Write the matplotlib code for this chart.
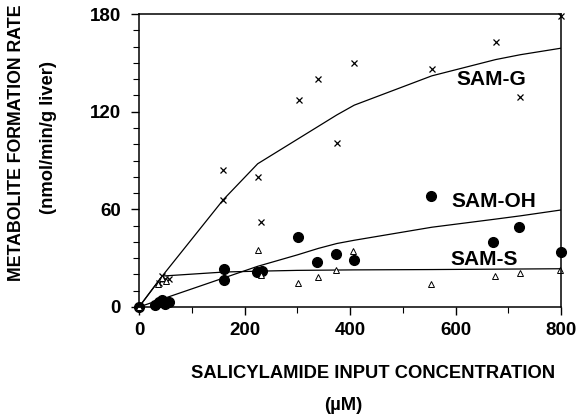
import matplotlib
matplotlib.use("Agg")
import matplotlib.pyplot as plt
from matplotlib.ticker import MultipleLocator

plt.rcParams['font.family'] = ['Liberation Sans', 'DejaVu Sans']

# SAM-G (crosses)
g_x = [0, 37, 44, 50, 56, 160, 160, 225, 231, 303, 340, 375, 408, 555, 676, 723, 800]
g_y = [0, 15, 19, 17, 17, 84, 66, 80, 52, 127, 140, 101, 150, 146, 163, 129, 179]
g_fit_x = [0, 44, 160, 225, 300, 340, 375, 408, 555, 676, 723, 800]
g_fit_y = [0, 19, 66, 88, 103, 111, 118, 124, 142, 152, 155, 159]

# SAM-OH (filled circles)
oh_x = [0, 30, 38, 44, 50, 56, 162, 162, 223, 234, 301, 338, 373, 408, 554, 672, 720, 800]
oh_y = [0, 1, 3, 4, 2, 3, 23.5, 16.6, 21.7, 22, 43, 27.5, 32.4, 29, 68, 40, 49, 34]
oh_fit_x = [0, 162, 225, 300, 340, 375, 408, 555, 676, 723, 800]
oh_fit_y = [0, 18, 25, 32, 36, 39, 41, 49, 54, 56, 59.6]

# SAM-S (open triangles)
s_x = [0, 36, 44, 52, 225, 231, 302, 339, 374, 406, 554, 675, 722, 798]
s_y = [0, 14, 18, 16, 35, 19.5, 15, 18.6, 22.5, 34.4, 14.3, 19.3, 21, 22.7]
s_fit_x = [0, 44, 162, 225, 300, 408, 555, 800]
s_fit_y = [0, 19, 21.5, 22, 22.5, 22.8, 23, 23.5]

fig = plt.figure(figsize=(5.78, 4.17), dpi=100)
ax = fig.add_axes([0.2405, 0.2638, 0.7301, 0.7026])

ax.plot(g_fit_x, g_fit_y, color='black', lw=0.9)
ax.plot(oh_fit_x, oh_fit_y, color='black', lw=0.9)
ax.plot(s_fit_x, s_fit_y, color='black', lw=0.9)

ax.plot(g_x, g_y, 'x', color='black', ms=4.5, mew=0.9, clip_on=False)
ax.plot(oh_x, oh_y, 'o', color='black', ms=7, clip_on=False)
ax.plot(s_x, s_y, '^', mfc='white', mec='black', ms=4, mew=0.7, clip_on=False)

ax.set_xlim(0, 800)
ax.set_ylim(0, 180)
ax.xaxis.set_major_locator(MultipleLocator(200))
ax.xaxis.set_minor_locator(MultipleLocator(100))
ax.yaxis.set_major_locator(MultipleLocator(60))
ax.yaxis.set_minor_locator(MultipleLocator(10))
ax.tick_params(which='major', direction='out', length=6, width=1, labelsize=13.5, pad=5)
ax.tick_params(which='minor', direction='out', length=4, width=0.8)
ax.tick_params(axis='y', which='major', pad=7)
for lab in ax.get_xticklabels() + ax.get_yticklabels():
    lab.set_fontweight('bold')
for s in ax.spines.values():
    s.set_linewidth(1.1)

ax.text(601, 139.5, 'SAM-G', fontsize=15, fontweight='bold', ha='left', va='center')
ax.text(592, 64.7, 'SAM-OH', fontsize=15, fontweight='bold', ha='left', va='center')
ax.text(591, 29.3, 'SAM-S', fontsize=15, fontweight='bold', ha='left', va='center')

fig.text(373 / 578, 1 - 374 / 417, 'SALICYLAMIDE INPUT CONCENTRATION', fontsize=13.2,
         fontweight='bold', ha='center', va='center')
fig.text(343 / 578, 1 - 405 / 417, '(\u00b5M)', fontsize=13.2, fontweight='bold',
         ha='center', va='center')
fig.text(16.5 / 578, 1 - 143 / 417, 'METABOLITE FORMATION RATE', fontsize=12.8,
         fontweight='bold', ha='center', va='center', rotation=90)
fig.text(49 / 578, 1 - 138 / 417, '(nmol/min/g liver)', fontsize=13.2,
         fontweight='bold', ha='center', va='center', rotation=90)

fig.savefig('out.png', dpi=100)
